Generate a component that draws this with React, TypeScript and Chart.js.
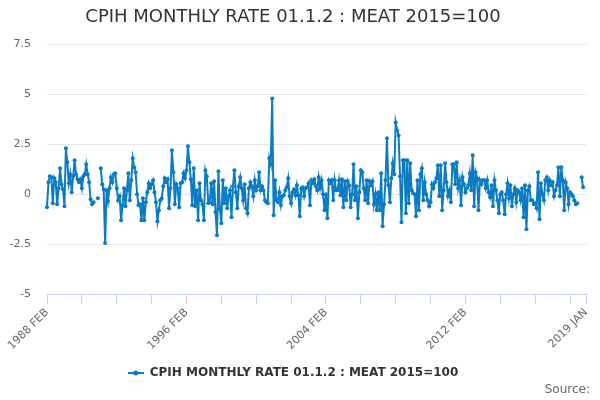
import React, { useEffect, useRef } from "react";
import { Chart, registerables } from "chart.js";

Chart.register(...registerables);

const TITLE = "CPIH MONTHLY RATE 01.1.2 : MEAT 2015=100";
const SERIES_NAME = "CPIH MONTHLY RATE 01.1.2 : MEAT 2015=100";
const SOURCE_TEXT = "Source:";
const LINE_COLOR = "#0b7cc2";

const MONTHS = ["JAN", "FEB", "MAR", "APR", "MAY", "JUN", "JUL", "AUG", "SEP", "OCT", "NOV", "DEC"];
const START_YEAR = 1988;
const START_MONTH = 1; // FEB (0-based)
const MONTH_COUNT = 372; // 1988 FEB .. 2019 JAN

// monthly rate, one row per year (FEB .. JAN)
const values: (number | null)[] = [
  -0.65, 0.6, 0.9, 0.85, -0.45, 0.8, 0.6, -0.5, 0.3, 1.3, 0.5, 0.25,
  -0.6, 2.3, 1.6, 0.55, 1.0, 0.1, 0.9, 1.7, 1.0, 0.75, 0.6, 0.75,
  0.3, 0.9, 1.0, 1.5, 1.0, 0.6, -0.25, -0.5, -0.4, null, null, -0.2,
  null, 1.3, 0.5, 0.25, -2.45, 0.2, -0.35, 0.3, 0.85, 0.6, 1.0, 1.05,
  0.3, -0.3, -0.1, -1.3, -0.55, 0.3, -0.6, 0.2, 1.05, -0.3, 0.7, 1.8,
  1.35, 1.1, 0.0, -0.55, -0.5, -1.3, -0.2, -1.3, -0.4, 0.1, 0.55, 0.3,
  0.5, 0.7, 0.1, -0.4, -1.35, -0.8, -0.3, -0.2, 0.4, 0.8, 0.6, 0.75,
  -0.7, 0.3, 2.2, 1.1, -0.5, 0.5, 0.3, -0.65, 0.55, 0.6, 1.05, 0.8,
  1.2, 2.4, 1.6, 0.75, -0.55, 1.3, -0.6, 0.2, -1.3, 0.55, -0.3, -0.5,
  -1.3, 1.2, 0.9, -0.45, -0.4, 0.55, -0.5, 0.65, -0.9, -2.05, 1.15, -0.75,
  -1.45, 0.7, -0.45, 0.3, -0.7, -0.1, 0.2, -1.15, 0.4, 1.2, 0.1, -0.7,
  0.4, 0.85, 0.3, -0.3, 0.5, -0.7, -0.95, 0.3, 0.6, 0.4, -0.1, 0.7,
  0.2, 0.4, 1.1, 0.2, 0.4, 0.2, -0.3, -0.4, -0.45, 1.8, 1.5, 4.8,
  -1.05, 0.7, -0.3, -0.4, 0.1, -0.55, -0.1, -0.05, 0.2, 0.35, 0.8, -0.1,
  -0.45, 0.1, 0.25, -0.05, 0.45, -0.05, -1.1, 0.3, 0.35, -0.1, 0.3, 0.35,
  0.55, -0.55, 0.7, 0.55, 0.75, 0.4, 0.2, 0.85, 0.3, 0.7, 0.0, -0.8,
  0.0, -1.2, 0.7, 0.55, 0.7, -0.3, 0.7, 0.2, 0.2, 0.7, -0.05, 0.75,
  -0.65, 0.65, -0.3, 0.65, 0.45, -0.65, 0.0, 1.5, -0.3, 0.4, -1.2, 0.1,
  1.2, 1.1, 0.3, -0.3, 0.7, -0.45, 0.65, 0.45, 0.65, -0.5, 0.0, -0.8,
  0.1, -0.8, 1.05, -1.6, -0.5, 0.7, 2.8, 0.45, -0.4, 0.8, 1.55, 1.0,
  3.6, 3.2, 2.95, 0.9, -1.4, 1.7, 1.7, -0.95, 1.7, -0.45, 1.55, 0.2,
  0.05, 0.0, -1.1, 0.7, -0.8, 1.0, 1.3, -0.3, 0.6, 0.0, -0.3, -0.6,
  -0.4, 0.5, 0.3, 0.6, 0.8, 1.45, -0.1, 1.45, -0.8, 0.2, 1.55, 0.6,
  -0.1, 0.2, -0.4, 1.5, 1.5, 0.5, 1.6, 0.3, 0.7, -0.55, 0.85, 0.5,
  0.1, 0.3, 0.45, 1.05, 0.2, 1.95, -0.6, 1.1, 0.8, -0.8, 0.7, 0.5,
  0.7, 0.7, 0.3, 0.7, 0.1, -0.15, 0.45, -0.6, 0.7, 0.2, -0.3, -0.95,
  0.0, 0.1, -0.3, -1.0, 0.0, 0.55, -0.2, 0.45, -0.6, 0.0, 0.3, -0.4,
  0.2, 0.1, -0.3, 0.3, -1.15, 0.45, -1.75, 0.2, 0.4, -0.3, -0.3, -0.5,
  -0.45, -0.7, 1.1, -1.25, 0.55, 0.0, -0.3, 0.7, 0.85, 0.2, 0.7, 0.45,
  0.6, -0.1, 0.2, 0.45, 1.35, -0.1, 1.35, 0.7, -0.8, 0.6, 0.3, -0.5,
  0.1, 0.0, -0.1, -0.3, -0.5, -0.45, null, null, 0.85, 0.35, null, null,
];

const labels: string[] = [];
for (let i = 0; i < MONTH_COUNT; i++) {
  const m = START_MONTH + i;
  labels.push(`${START_YEAR + Math.floor(m / 12)} ${MONTHS[m % 12]}`);
}

const LABELLED_TICKS = [0, 96, 192, 288, 371];
const TICK_MARK_EVERY = 24;
const Y_MIN = -5;
const Y_MAX = 7.5;
const Y_STEP = 2.5;

function makeLegendMarker(): HTMLCanvasElement {
  const c = document.createElement("canvas");
  c.width = 16;
  c.height = 8;
  const g = c.getContext("2d")!;
  g.strokeStyle = LINE_COLOR;
  g.lineWidth = 2;
  g.beginPath();
  g.moveTo(0, 4);
  g.lineTo(16, 4);
  g.stroke();
  g.fillStyle = LINE_COLOR;
  g.beginPath();
  g.arc(8, 4, 2.5, 0, Math.PI * 2);
  g.fill();
  return c;
}

const sourcePlugin = {
  id: "sourceText",
  afterDraw(chart: any) {
    const ctx = chart.ctx;
    ctx.save();
    ctx.font = '12px "DejaVu Sans"';
    ctx.fillStyle = "#666666";
    ctx.textAlign = "right";
    ctx.textBaseline = "middle";
    ctx.fillText(SOURCE_TEXT, 590, 390);
    ctx.restore();
  },
};

export default function App() {
  const ref = useRef<HTMLCanvasElement | null>(null);

  useEffect(() => {
    document.body.style.margin = "0";
    const canvas = ref.current!;
    const marker = makeLegendMarker();
    const chart = new Chart(canvas, {
      type: "line",
      data: {
        labels,
        datasets: [
          {
            label: SERIES_NAME,
            data: values,
            borderColor: LINE_COLOR,
            backgroundColor: LINE_COLOR,
            borderWidth: 2,
            pointRadius: 2,
            pointHoverRadius: 2,
            pointBorderWidth: 0,
            pointBackgroundColor: LINE_COLOR,
            spanGaps: false,
            tension: 0,
          },
        ],
      },
      options: {
        responsive: false,
        animation: false,
        layout: { padding: { left: 0, right: 14, top: 0, bottom: 11 } },
        plugins: {
          title: {
            display: true,
            text: TITLE,
            color: "#333333",
            font: { family: "DejaVu Sans", size: 18, weight: "normal" },
            padding: { top: 7, bottom: 16 },
          },
          legend: {
            display: true,
            position: "bottom",
            labels: {
              color: "#333333",
              font: { family: "DejaVu Sans", size: 12, weight: "bold" },
              usePointStyle: true,
              pointStyleWidth: 16,
              padding: 10,
              generateLabels: (c: any) => {
                const items = (Chart.defaults.plugins.legend.labels as any).generateLabels(c);
                items.forEach((it: any) => {
                  it.pointStyle = marker;
                });
                return items;
              },
            },
          },
          tooltip: { enabled: false },
        },
        scales: {
          x: {
            type: "category",
            offset: false,
            grid: {
              drawOnChartArea: false,
              drawTicks: true,
              tickLength: 10,
              tickColor: (ctx: any) =>
                ctx.index % TICK_MARK_EVERY === 0 || ctx.index === MONTH_COUNT - 1
                  ? "#ccd6eb"
                  : "rgba(0,0,0,0)",
            },
            border: { display: true, color: "#ccd6eb", width: 1 },
            ticks: {
              autoSkip: false,
              minRotation: 45,
              maxRotation: 45,
              padding: 2,
              color: "#666666",
              font: { family: "DejaVu Sans", size: 11 },
              callback: (_v: any, i: number) => (LABELLED_TICKS.includes(i) ? labels[i] : ""),
            },
            afterFit: (scale: any) => {
              scale.height = 63;
            },
          },
          y: {
            min: Y_MIN,
            max: Y_MAX,
            grid: { color: "#e6e6e6", lineWidth: 1, drawTicks: false },
            border: { display: false },
            ticks: {
              stepSize: Y_STEP,
              padding: 16,
              color: "#666666",
              font: { family: "DejaVu Sans", size: 11 },
            },
            afterFit: (scale: any) => {
              scale.width = 47;
            },
          },
        },
      },
      plugins: [sourcePlugin],
    });
    return () => chart.destroy();
  }, []);

  return <canvas ref={ref} width={600} height={400} style={{ display: "block", width: 600, height: 400 }} />;
}
